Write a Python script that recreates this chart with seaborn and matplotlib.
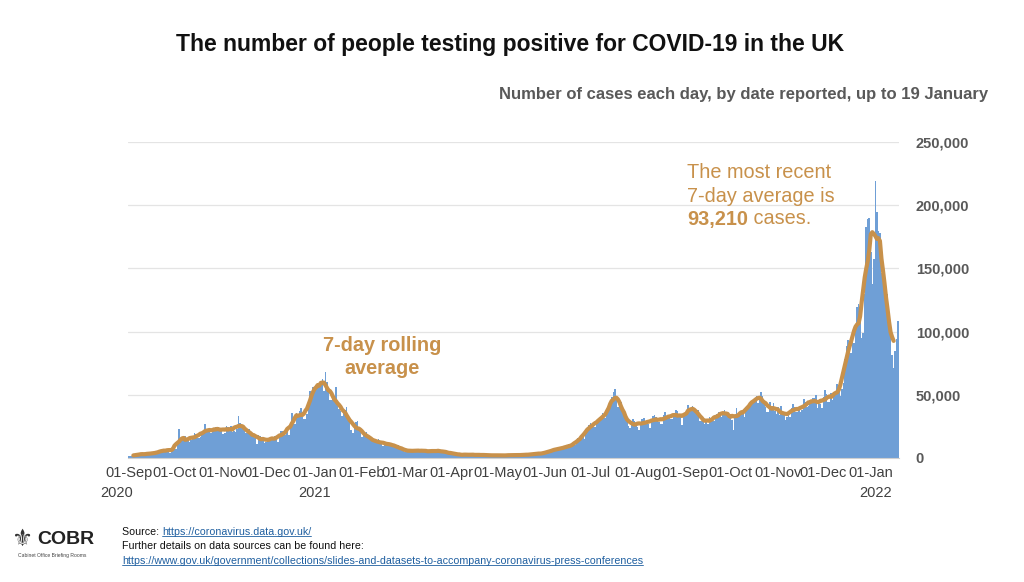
import numpy as np
import pandas as pd
import seaborn as sns
import matplotlib.pyplot as plt
from matplotlib.lines import Line2D

# daily cases by date reported
sep_2020 = [1295, 1508, 1735, 1940, 1813, 2988, 2948, 2460, 2659, 2919,
            3539, 3497, 3330, 2621, 3105, 3991, 3395, 4322, 4422, 3899,
            4368, 4926, 6178, 6634, 6874, 6042, 5693, 4044, 7143, 7108]
oct_2020 = [6914, 6968, 12872, 22961, 12594, 14542, 14162, 17540, 13864, 15166,
            12872, 13972, 17234, 19724, 18980, 15650, 16171, 16982, 18804, 21331,
            26688, 21242, 20530, 23012, 19790, 20890, 22885, 24701, 23065, 24405,
            21915]
nov_2020 = [23254, 18950, 20018, 25177, 24141, 23287, 24957, 20572, 21350, 20412,
            22950, 33470, 27301, 26860, 24962, 21363, 20051, 19609, 22915, 20252,
            19875, 18662, 15450, 11299, 18213, 17555, 16022, 15871, 12155, 12330]
dec_2020 = [13430, 16170, 14879, 16298, 15539, 17272, 14718, 12282, 16578, 20964,
            21672, 21502, 18447, 20263, 18450, 25161, 35383, 28507, 27052, 35928,
            33364, 36804, 39237, 32725, 31000, 30501, 34693, 41385, 53135, 50023,
            55892]
jan_2021 = [53285, 57725, 54990, 58784, 60916, 62322, 52618, 68053, 59937, 54940,
            46169, 45533, 47525, 48682, 55761, 41346, 38598, 37535, 33355, 38905,
            37892, 40261, 33552, 30004, 22195, 20089, 25308, 28680, 29079, 23275,
            21088]
feb_2021 = [16840, 18607, 19202, 20634, 18262, 15845, 14104, 12364, 12718, 13494,
            13308, 15144, 13028, 10972, 9765, 10625, 12718, 12057, 12027, 10406,
            9834, 8489, 8523, 9938, 9985, 8523, 7434, 6035]
mar_2021 = [4712, 6385, 5766, 6573, 6040, 5177, 5455, 4712, 5766, 5926,
            6609, 6753, 5534, 4618, 5089, 5294, 5758, 6303, 4802, 5587,
            5312, 5342, 5379, 5605, 6397, 6187, 3862, 3882, 4654, 4052,
            4479]
apr_2021 = [4052, 3402, 3423, 2297, 2762, 2379, 3030, 2763, 3150, 1730,
            1730, 3568, 2472, 2491, 2672, 3232, 1882, 1882, 2524, 2524,
            2396, 2729, 2678, 2026, 1712, 2064, 1946, 2166, 2396, 2381]
may_2021 = [1907, 1671, 1649, 1946, 2613, 2490, 2047, 1770, 1671, 2357,
            2284, 2657, 2657, 2193, 2027, 1926, 2357, 2412, 2696, 2874,
            2829, 2694, 2235, 2439, 3180, 3542, 3542, 4182, 3398, 3240,
            3240]
jun_2021 = [3165, 4330, 5274, 6238, 5765, 5341, 5683, 6048, 7540, 8125,
            8125, 7738, 7490, 7742, 7673, 9055, 11007, 10321, 10633, 9284,
            10633, 11625, 16135, 16703, 15810, 18270, 14876, 22868, 20479, 26068]
jul_2021 = [27989, 27125, 24885, 24248, 27334, 28773, 32548, 32551, 35707, 31772,
            31772, 34471, 36660, 42302, 48553, 51870, 54674, 48161, 39950, 46558,
            44104, 39906, 36389, 31795, 29173, 24950, 23511, 27734, 31117, 29622,
            26144]
aug_2021 = [24470, 21952, 26628, 30788, 31933, 28612, 27429, 26750, 23510, 29612,
            33074, 33904, 32725, 29520, 28438, 26750, 26852, 33904, 36572, 32058,
            32253, 31914, 31015, 30838, 35847, 38046, 37314, 32406, 33196, 26476,
            32181]
sep_2021 = [35693, 35623, 42076, 37578, 37011, 41192, 37489, 38975, 38154, 37622,
            29547, 29173, 30825, 26628, 30597, 26911, 32651, 30144, 29612, 29173,
            31564, 34460, 36710, 35577, 32416, 34526, 37960, 34526, 36722, 35077]
oct_2021 = [35077, 30301, 22484, 33869, 39851, 33869, 36060, 35951, 34574, 32322,
            40224, 38520, 42776, 45066, 44932, 43423, 45140, 49156, 43738, 49139,
            52009, 49298, 44985, 39962, 36567, 36567, 43941, 39842, 43467, 37269,
            35058]
nov_2021 = [40077, 33865, 41299, 37269, 34029, 30305, 32322, 37269, 32322, 39329,
            42408, 40375, 36517, 36517, 39705, 36517, 38263, 46807, 44242, 40004,
            40941, 44917, 43676, 47240, 47240, 50091, 39567, 42583, 42848, 39716]
dec_2021 = [48374, 53945, 50584, 43992, 43992, 51459, 45691, 51342, 50867, 58194,
            54073, 48854, 54661, 59610, 78610, 88376, 93045, 90418, 82886, 91743,
            90629, 106122, 119789, 122186, 113628, 95000, 98515, 129471, 183037, 189213,
            189846]
jan_2022 = [162572, 137583, 157758, 218724, 194747, 179756, 178250, 146390, 141472, 142224,
            120821, 129587, 109133, 99652, 81713, 70924, 84429, 94432, 108069]

cases = (sep_2020 + oct_2020 + nov_2020 + dec_2020 + jan_2021 + feb_2021 + mar_2021
         + apr_2021 + may_2021 + jun_2021 + jul_2021 + aug_2021 + sep_2021 + oct_2021
         + nov_2021 + dec_2021 + jan_2022)

month_starts = ["2020-09-01", "2020-10-01", "2020-11-01", "2020-12-01", "2021-01-01",
                "2021-02-01", "2021-03-01", "2021-04-01", "2021-05-01", "2021-06-01",
                "2021-07-01", "2021-08-01", "2021-09-01", "2021-10-01", "2021-11-01",
                "2021-12-01", "2022-01-01"]
month_labels = ["01-Sep", "01-Oct", "01-Nov", "01-Dec", "01-Jan", "01-Feb", "01-Mar",
                "01-Apr", "01-May", "01-Jun", "01-Jul", "01-Aug", "01-Sep", "01-Oct",
                "01-Nov", "01-Dec", "01-Jan"]
year_labels = ["2020", "2021", "2022"]
y_ticks = [0, 50000, 100000, 150000, 200000, 250000]
y_labels = ["0", "50,000", "100,000", "150,000", "200,000", "250,000"]

BLUE = "#6F9FD6"
ORANGE = "#C8914B"
GREY = "#595959"

start = pd.Timestamp("2020-09-01")
df = pd.DataFrame({"date": pd.date_range(start, periods=len(cases)), "cases": cases})
df["day"] = (df["date"] - start).dt.days
df["avg"] = df["cases"].rolling(7, center=True).mean()

sns.set_style("white")
plt.rcParams["font.family"] = ["Liberation Sans", "DejaVu Sans"]

fig = plt.figure(figsize=(10.24, 5.82), dpi=100)
ax = fig.add_axes([0.125, 0.2131, 0.7529, 0.5430])

sns.barplot(data=df, x="day", y="cases", native_scale=True, width=1, color=BLUE,
            saturation=1, linewidth=0, errorbar=None, ax=ax, zorder=2)
sns.lineplot(data=df, x="day", y="avg", color=ORANGE, linewidth=3.0, ax=ax, zorder=3)

ax.set_xlim(-0.5, len(cases) - 0.5)
ax.set_ylim(0, 250000)
ax.set_xlabel("")
ax.set_ylabel("")

ax.set_axisbelow(True)
ax.yaxis.grid(True, color="#E4E4E4", linewidth=0.9)
ax.yaxis.tick_right()
ax.set_yticks(y_ticks)
ax.set_yticklabels(y_labels, fontsize=10.5, fontweight="bold", color=GREY)
ax.tick_params(axis="y", length=0, pad=12)

ax.set_xticks([(pd.Timestamp(d) - start).days for d in month_starts])
ax.set_xticklabels(month_labels, fontsize=10.5, color="#404040")
ax.tick_params(axis="x", length=4, color="#C8C8C8", width=0.8, pad=4, direction="inout")

for s in ["left", "top", "right"]:
    ax.spines[s].set_visible(False)
ax.spines["bottom"].set_color("#D0D0D0")

year_days = [-8, (pd.Timestamp("2021-01-01") - start).days, (pd.Timestamp("2022-01-04") - start).days]
for d, lab in zip(year_days, year_labels):
    ax.text(d, -0.111, lab, transform=ax.get_xaxis_transform(), ha="center", va="center",
            fontsize=10.5, color="#404040")

# titles
fig.text(510 / 1024, 1 - 44 / 582, "The number of people testing positive for COVID-19 in the UK",
         ha="center", va="center", fontsize=16.5, fontweight="bold", color="#111111")
fig.text(988 / 1024, 1 - 95 / 582, "Number of cases each day, by date reported, up to 19 January",
         ha="right", va="center", fontsize=12.0, fontweight="bold", color=GREY)

# annotations
fig.text(382 / 1024, 1 - 357 / 582, "7-day rolling\naverage", ha="center", va="center",
         fontsize=14.3, fontweight="bold", color=ORANGE, linespacing=1.27)
fig.text(687 / 1024, 1 - 172 / 582, "The most recent", ha="left", va="center",
         fontsize=14.3, color=ORANGE)
fig.text(687 / 1024, 1 - 196 / 582, "7-day average is", ha="left", va="center",
         fontsize=14.3, color=ORANGE)
t_num = fig.text(687 / 1024, 1 - 219 / 582, "93,210", ha="left", va="center",
                 fontsize=14.3, fontweight="bold", color=ORANGE)
ax.annotate(" cases.", xy=(1, 0), xycoords=t_num, ha="left", va="bottom",
            fontsize=14.3, color=ORANGE, annotation_clip=False)

# footer
fig.text(22 / 1024, 1 - 539 / 582, "\u269c", ha="center", va="center", fontsize=17,
         color="#333333", family="DejaVu Sans")
fig.text(37 / 1024, 1 - 540 / 582, "COBR", ha="left", va="center", fontsize=14,
         fontweight="bold", color="#222222")
fig.text(52 / 1024, 1 - 556 / 582, "Cabinet Office Briefing Rooms", ha="center", va="center",
         fontsize=3.6, color="#444444")

LINK = "#1F5FA0"
FS = 7.7
t_src = fig.text(122 / 1024, 1 - 532 / 582, "Source: ", ha="left", va="center",
                 fontsize=FS, color="#111111")
link1 = ax.annotate("https://coronavirus.data.gov.uk/", xy=(1, 0), xycoords=t_src,
                    ha="left", va="bottom", fontsize=FS, color=LINK, annotation_clip=False)
fig.text(122 / 1024, 1 - 546 / 582, "Further details on data sources can be found here:",
         ha="left", va="center", fontsize=FS, color="#111111")
link2 = fig.text(122 / 1024, 1 - 561 / 582,
                 "https://www.gov.uk/government/collections/slides-and-datasets-to-accompany-coronavirus-press-conferences",
                 ha="left", va="center", fontsize=FS, color=LINK)

fig.canvas.draw()
r = fig.canvas.get_renderer()
inv = fig.transFigure.inverted()
for t in [link1, link2]:
    bb = t.get_window_extent(r)
    (x0, y0), (x1, _) = inv.transform([(bb.x0, bb.y0 + 1.5), (bb.x1, bb.y0 + 1.5)])
    fig.add_artist(Line2D([x0, x1], [y0, y0], color=LINK, linewidth=0.6))

fig.savefig("out.png", dpi=100)
